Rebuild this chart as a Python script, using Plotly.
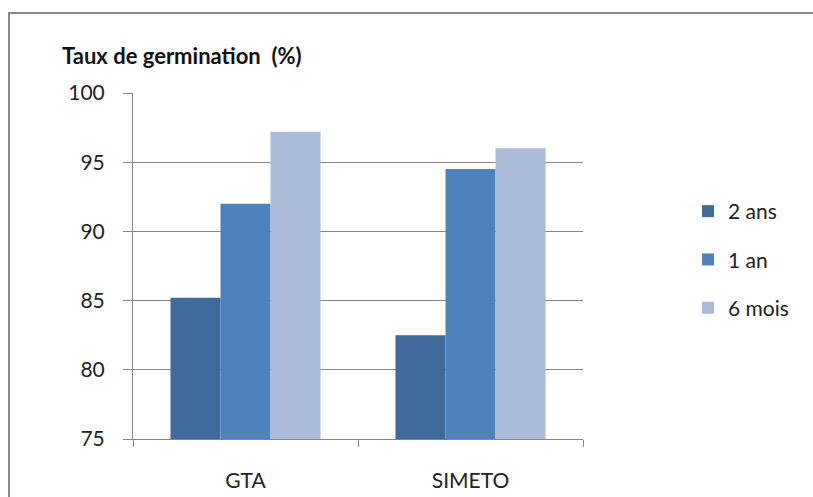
import plotly.graph_objects as go

# Germination rate (%) by variety and seed age
varieties = ["GTA", "SIMETO"]
age_labels = ["2 ans", "1 an", "6 mois"]
rate_2_ans = [85.2, 82.5]
rate_1_an = [92.0, 94.5]
rate_6_mois = [97.2, 96.0]
y_ticks = [75, 80, 85, 90, 95, 100]

series = [rate_2_ans, rate_1_an, rate_6_mois]
colors = ["#40699C", "#4F81BD", "#AABAD8"]

W, H = 813, 497
L, R, T, B = 133, 230, 93, 58
pw, ph = W - L - R, H - T - B


def px_x(x):
    return (x - L) / pw


def px_y(y):
    return (H - B - y) / ph


fig = go.Figure()
for i, (name, vals, col) in enumerate(zip(age_labels, series, colors)):
    fig.add_trace(go.Bar(
        x=varieties, y=vals, name=name,
        marker=dict(color=col, line=dict(width=0)),
        legendgroup=f"g{i}",
    ))

fig.update_layout(
    width=W, height=H,
    margin=dict(l=L, r=R, t=T, b=B, autoexpand=False),
    paper_bgcolor="white", plot_bgcolor="white",
    barmode="group", bargap=0.333, bargroupgap=0,
    font=dict(family="Lato", color="#222222"),
    showlegend=True,
    legend=dict(
        x=px_x(688), y=px_y(191), xanchor="left", yanchor="top",
        font=dict(size=21, color="#222222"),
        tracegroupgap=18, itemwidth=30,
        bgcolor="rgba(0,0,0,0)",
    ),
    annotations=[dict(
        text="<b>Taux de germination  (%)</b>",
        x=px_x(60), y=px_y(55), xref="paper", yref="paper",
        xanchor="left", yanchor="middle", showarrow=False,
        font=dict(size=22, color="#111111"),
    )],
    shapes=[dict(
        type="rect", xref="paper", yref="paper",
        x0=px_x(9), x1=px_x(830), y0=px_y(520), y1=px_y(13),
        line=dict(color="#8A8A8A", width=2), fillcolor="rgba(0,0,0,0)",
        layer="below",
    )],
)

fig.update_xaxes(
    type="category", tickson="boundaries", automargin=False,
    showline=True, linecolor="#868686", linewidth=1,
    ticks="outside", ticklen=7, tickcolor="#868686",
    tickfont=dict(size=21, color="#222222"),
    ticklabelstandoff=23,
    showgrid=False, zeroline=False,
)
fig.update_yaxes(
    range=[75, 100], tickvals=y_ticks, automargin=False,
    showline=True, linecolor="#868686", linewidth=1,
    ticks="outside", ticklen=9, tickcolor="#868686",
    tickfont=dict(size=21, color="#222222"),
    ticklabelstandoff=14,
    showgrid=True, gridcolor="#868686", gridwidth=1,
    zeroline=False,
)

fig.write_html("out.html")
